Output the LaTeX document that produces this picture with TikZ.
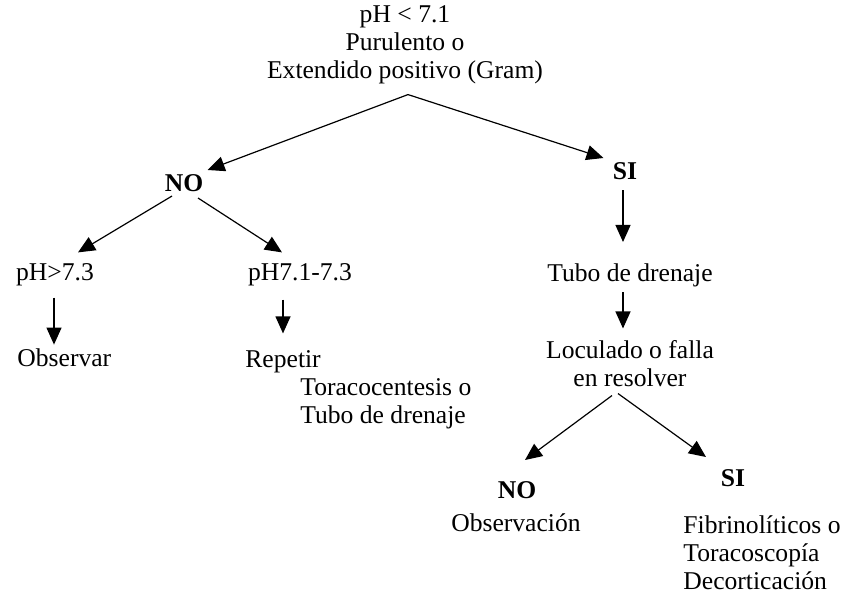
\documentclass[tikz,border=0pt]{standalone}
\usepackage{fontspec}
\setmainfont{Liberation Serif}
\usetikzlibrary{arrows.meta,calc}

\begin{document}
\begin{tikzpicture}[x=0.5pt,y=-0.5pt,>={Triangle[length=8.5pt,width=7.5pt]},
  every node/.style={font=\fontsize{12.8}{14}\selectfont,inner sep=2pt},
  lbl/.style={font=\fontsize{12.8}{14}\selectfont\bfseries},
  arr/.style={->,line width=0.6pt}]
\useasboundingbox (0,0) rectangle (842,594);
% criterio inicial
\node[align=center] (root) at (405,45) {pH < 7.1\\Purulento o\\Extendido positivo (Gram)};
\node[lbl] (no1) at (184,183) {NO};
\node[lbl] (si1) at (625,171) {SI};
% rama NO
\node (ph73) at (55,275) {pH>7.3};
\node (ph7173) at (300,275) {pH7.1-7.3};
\node[anchor=west] (obs) at (13,358) {Observar};
\node[anchor=west,align=left] (rep) at (241,390) {Repetir\\\hspace*{27.5pt}Toracocentesis o\\\hspace*{27.5pt}Tubo de drenaje};
% rama SI
\node (tubo) at (630,275) {Tubo de drenaje};
\node[align=center] (loc) at (630,364) {Loculado o falla\\en resolver};
\node[lbl] (no2) at (517,490) {NO};
\node (obsn) at (516,523) {Observación};
\node[lbl] (si2) at (733,478) {SI};
\node[anchor=west,align=left] (fib) at (679,553) {Fibrinolíticos o\\Toracoscopía\\Decorticación};
% flechas
\draw[arr] ($(root.south)+(3,6)$) -- (no1.north east);
\draw[arr] ($(root.south)+(3,6)$) -- ($(si1.north west)+(-5,0)$);
\draw[arr] ($(no1.south)+(-12,0)$) -- ($(ph73.north)+(23,-7)$);
\draw[arr] ($(no1.south)+(14,2)$) -- ($(ph7173.north)+(-18,-7)$);
\draw[arr] ($(ph73.south)+(-1,7)$) -- ($(ph73.south |- obs.north)+(-1,0)$);
\draw[arr] ($(ph7173.south)+(-17,9)$) -- ($(ph7173.south |- rep.north)+(-17,-13)$);
\draw[arr] ($(si1.south)+(-2,6)$) -- ($(tubo.north)+(-7,-17)$);
\draw[arr] ($(tubo.south)+(-7,1)$) -- ($(tubo.south |- loc.north)+(-7,-8)$);
\draw[arr] ($(loc.south)+(-18,4)$) -- ($(no2.north)+(8,-17)$);
\draw[arr] ($(loc.south)+(-12,2)$) -- ($(si2.north)+(-27,-8)$);
\end{tikzpicture}
\end{document}
